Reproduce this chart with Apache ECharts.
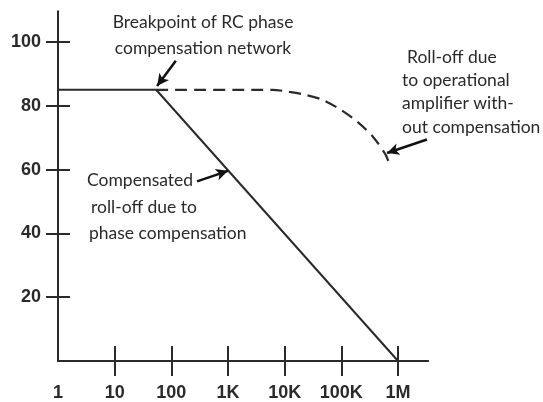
<!DOCTYPE html>
<html>
<head>
<meta charset="utf-8">
<script src="https://cdn.jsdelivr.net/npm/echarts@6/dist/echarts.min.js"></script>
<style>
  html, body { margin: 0; padding: 0; background: #fff; }
  #chart { width: 543px; height: 402px; }
</style>
</head>
<body>
<div id="chart"></div>
<script>
// Open-loop gain (dB) versus frequency (Hz), log frequency scale
const freqTicks = [1, 10, 100, 1000, 10000, 100000, 1000000];
const freqTickLabels = ['1', '10', '100', '1K', '10K', '100K', '1M'];
const gainTicks = [20, 40, 60, 80, 100];

// Compensated response: flat to the RC breakpoint, then -20 dB/decade
const compFreq = [1, 54, 1000000];
const compGain = [85, 85, 0];

// Uncompensated amplifier roll-off
const uncompFreq = [54, 3000, 6000, 11500, 21000, 46000, 98000, 190000, 360000, 590000, 680000];
const uncompGain = [85, 85, 85, 84.4, 83.6, 81.9, 78.7, 75, 70.3, 65, 62.5];

// Annotation arrows, [tailFreq, tailGain, headFreq, headGain]
const arrows = [
  [120, 94.1, 56, 86.2],
  [284, 56.3, 1000, 59.6],
  [3240000, 69.4, 640000, 65.2]
];

const ink = '#2a2a2a';
const labelFont = 'Liberation Sans';
const noteFont = 'Lato';
const noteSize = 17.5;

const pair = (xs, ys) => xs.map((x, i) => [x, ys[i]]);

const chart = echarts.init(document.getElementById('chart'));

const xBase = {
  type: 'log',
  logBase: 10,
  min: 1,
  max: 3380000,
  gridIndex: 0,
  position: 'bottom',
  splitLine: { show: false },
  minorTick: { show: false },
  axisLine: { onZero: false, lineStyle: { color: ink, width: 2 } }
};
const yBase = {
  type: 'value',
  min: 0,
  max: 109.5,
  gridIndex: 0,
  position: 'left',
  splitLine: { show: false },
  axisLine: { onZero: false, lineStyle: { color: ink, width: 2 } }
};

const note = (text, x, y, align) => ({
  type: 'text', x, y,
  style: { text, font: `${noteSize}px ${noteFont}`, fill: ink, align, verticalAlign: 'middle' }
});

chart.setOption({
  animation: false,
  backgroundColor: '#fff',
  grid: { left: 58, right: 115, top: 11.6, bottom: 40 },
  xAxis: [
    Object.assign({}, xBase, {
      axisTick: { show: true, length: 15, inside: false, customValues: freqTicks.slice(1), lineStyle: { color: ink, width: 2 } },
      axisLabel: {
        show: true, customValues: freqTicks, margin: 23,
        color: ink, fontFamily: labelFont, fontSize: 18, fontWeight: 'bold',
        formatter: v => freqTickLabels[freqTicks.indexOf(Math.round(v))] || ''
      }
    }),
    Object.assign({}, xBase, {
      axisTick: { show: true, length: 15, inside: true, customValues: freqTicks.slice(1), lineStyle: { color: ink, width: 2 } },
      axisLabel: { show: false }
    })
  ],
  yAxis: [
    Object.assign({}, yBase, {
      axisTick: { show: true, length: 12, inside: false, customValues: gainTicks, lineStyle: { color: ink, width: 2 } },
      axisLabel: {
        show: true, customValues: gainTicks, margin: 17,
        color: ink, fontFamily: labelFont, fontSize: 18, fontWeight: 'bold'
      }
    }),
    Object.assign({}, yBase, {
      axisTick: { show: true, length: 12, inside: true, customValues: gainTicks, lineStyle: { color: ink, width: 2 } },
      axisLabel: { show: false }
    })
  ],
  series: [
    {
      name: 'Compensated',
      type: 'line',
      xAxisIndex: 0, yAxisIndex: 0,
      data: pair(compFreq, compGain),
      showSymbol: false,
      lineStyle: { color: ink, width: 2 },
      z: 3
    },
    {
      name: 'Uncompensated',
      type: 'line',
      xAxisIndex: 0, yAxisIndex: 0,
      data: pair(uncompFreq, uncompGain),
      showSymbol: false,
      smooth: 0.3,
      lineStyle: { color: ink, width: 2.2, type: [12, 7] },
      z: 3
    },
    {
      name: 'Notes',
      type: 'line',
      xAxisIndex: 0, yAxisIndex: 0,
      data: [],
      markLine: {
        silent: true,
        symbol: ['none', 'arrow'],
        symbolSize: [9, 12],
        label: { show: false },
        lineStyle: { color: '#111', width: 2.5, type: 'solid' },
        data: arrows.map(a => [{ coord: [a[0], a[1]] }, { coord: [a[2], a[3]] }])
      },
      z: 4
    }
  ],
  graphic: [
    note('Breakpoint of RC phase', 203, 22, 'center'),
    note('compensation network', 203, 48, 'center'),
    note('Roll-off due', 407, 57, 'left'),
    note('to operational', 402, 80, 'left'),
    note('amplifier with-', 402, 103, 'left'),
    note('out compensation', 402, 127, 'left'),
    note('Compensated', 87, 180, 'left'),
    note('roll-off due to', 91, 207, 'left'),
    note('phase compensation', 89, 233, 'left')
  ]
});
</script>
</body>
</html>
